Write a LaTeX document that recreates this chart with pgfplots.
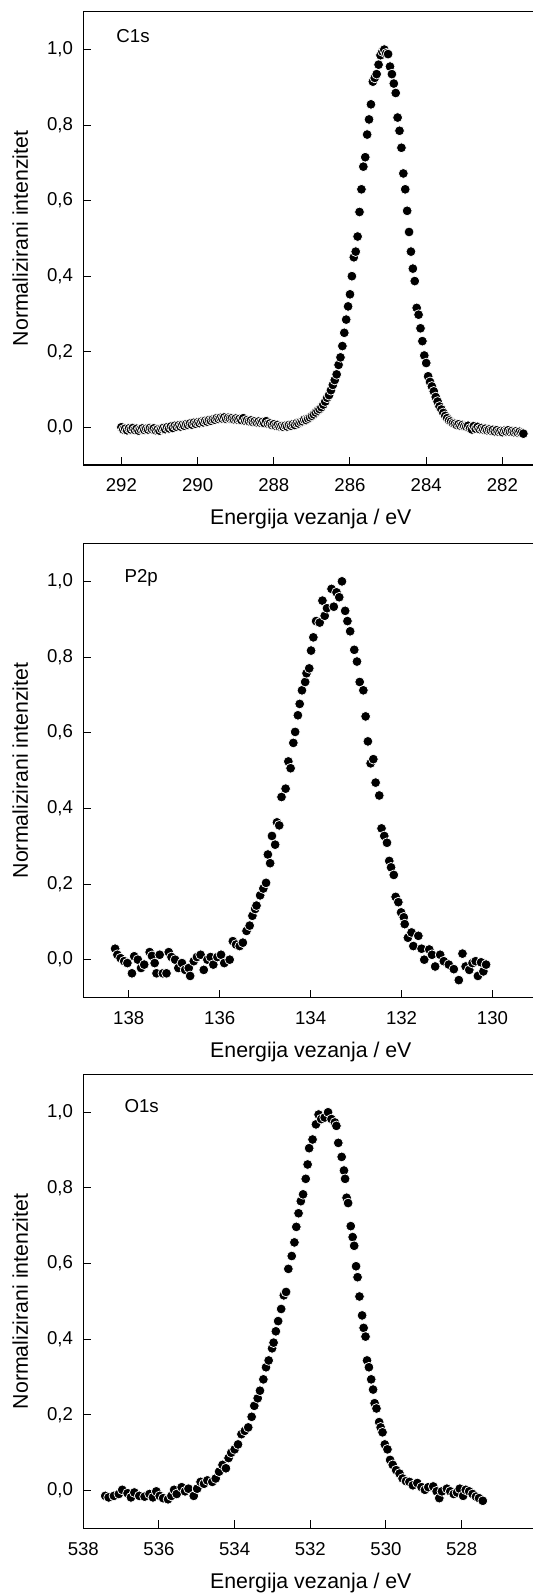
\documentclass[border=0pt]{standalone}
\usepackage{pgfplots}
\usepackage{pgfplotstable}
\pgfplotsset{compat=1.18}
\usepackage{fontspec}
\setmainfont{Liberation Sans}

\pgfplotstableread{
x y
292.00 0.000
291.95 -0.006
291.90 -0.004
291.85 -0.008
291.80 -0.003
291.75 -0.006
291.70 -0.002
291.65 -0.007
291.60 -0.004
291.55 -0.009
291.50 -0.005
291.45 -0.003
291.40 -0.007
291.35 -0.004
291.30 -0.006
291.25 -0.002
291.20 -0.005
291.15 -0.003
291.10 -0.008
291.05 -0.006
291.00 -0.009
290.95 -0.004
290.90 -0.002
290.85 -0.005
290.80 0.000
290.75 -0.003
290.70 0.002
290.65 -0.002
290.60 0.004
290.55 0.001
290.50 0.005
290.45 0.002
290.40 0.006
290.35 0.004
290.30 0.008
290.25 0.006
290.20 0.010
290.15 0.007
290.10 0.012
290.05 0.009
290.00 0.013
289.95 0.011
289.90 0.015
289.85 0.013
289.80 0.017
289.75 0.015
289.70 0.019
289.65 0.017
289.60 0.021
289.55 0.020
289.50 0.024
289.45 0.022
289.40 0.025
289.35 0.023
289.30 0.026
289.25 0.022
289.20 0.025
289.15 0.023
289.10 0.024
289.05 0.021
289.00 0.023
288.95 0.020
288.90 0.022
288.85 0.019
288.80 0.024
288.75 0.017
288.70 0.019
288.65 0.016
288.60 0.018
288.55 0.014
288.50 0.016
288.45 0.013
288.40 0.015
288.35 0.012
288.30 0.014
288.25 0.011
288.20 0.016
288.15 0.009
288.10 0.010
288.05 0.006
288.00 0.008
287.95 0.004
287.90 0.006
287.85 0.002
287.80 0.003
287.75 0.001
287.70 0.004
287.65 0.002
287.60 0.006
287.55 0.004
287.50 0.008
287.45 0.006
287.40 0.011
287.35 0.010
287.30 0.014
287.25 0.016
287.20 0.020
287.15 0.019
287.10 0.023
287.05 0.026
287.00 0.030
286.95 0.034
286.90 0.039
286.85 0.044
286.80 0.048
286.75 0.053
286.70 0.060
286.65 0.068
286.60 0.078
286.55 0.085
286.50 0.098
286.45 0.112
286.40 0.125
286.35 0.140
286.30 0.165
286.25 0.185
286.20 0.215
286.15 0.250
286.10 0.285
286.05 0.320
286.00 0.352
285.95 0.400
285.90 0.450
285.85 0.465
285.80 0.505
285.75 0.570
285.70 0.630
285.65 0.690
285.60 0.715
285.55 0.775
285.50 0.815
285.45 0.855
285.40 0.915
285.35 0.925
285.30 0.935
285.25 0.960
285.20 0.985
285.15 0.995
285.10 1.000
285.05 0.990
285.00 0.988
284.95 0.955
284.90 0.935
284.85 0.910
284.80 0.885
284.75 0.820
284.70 0.785
284.65 0.740
284.60 0.672
284.55 0.630
284.50 0.573
284.45 0.517
284.40 0.465
284.35 0.420
284.30 0.387
284.25 0.316
284.20 0.298
284.15 0.262
284.10 0.228
284.05 0.190
284.00 0.170
283.95 0.135
283.90 0.120
283.85 0.108
283.80 0.095
283.75 0.080
283.70 0.068
283.65 0.055
283.60 0.047
283.55 0.038
283.50 0.030
283.45 0.024
283.40 0.018
283.35 0.015
283.30 0.011
283.25 0.009
283.20 0.006
283.15 0.008
283.10 0.004
283.05 0.006
283.00 0.003
282.95 0.002
282.90 0.004
282.85 -0.003
282.80 -0.006
282.75 0.003
282.70 -0.004
282.65 0.001
282.60 -0.005
282.55 -0.002
282.50 -0.006
282.45 -0.004
282.40 -0.008
282.35 -0.006
282.30 -0.009
282.25 -0.007
282.20 -0.011
282.15 -0.008
282.10 -0.012
282.05 -0.010
282.00 -0.013
281.95 -0.009
281.90 -0.011
281.85 -0.008
281.80 -0.012
281.75 -0.010
281.70 -0.013
281.65 -0.011
281.60 -0.014
281.55 -0.012
281.50 -0.015
281.45 -0.017
}\cone

\pgfplotstableread{
x y
138.30 0.029
138.25 0.013
138.18 0.004
138.10 -0.004
138.03 -0.009
137.93 -0.036
137.88 0.009
137.80 0.000
137.73 -0.022
137.66 -0.013
137.54 0.020
137.49 0.010
137.43 -0.009
137.39 -0.036
137.32 0.013
137.25 -0.036
137.17 -0.036
137.12 0.020
137.06 0.007
136.98 0.000
136.91 -0.022
136.83 -0.009
136.76 -0.027
136.68 -0.022
136.65 -0.043
136.57 -0.004
136.50 0.007
136.42 0.013
136.35 -0.027
136.27 0.000
136.20 0.007
136.14 -0.013
136.05 0.007
135.97 0.013
135.90 -0.009
135.78 0.000
135.71 0.049
135.64 0.040
135.56 0.036
135.49 0.045
135.41 0.076
135.34 0.090
135.28 0.116
135.22 0.134
135.19 0.143
135.11 0.170
135.04 0.188
134.98 0.203
134.94 0.278
134.89 0.255
134.85 0.327
134.78 0.304
134.74 0.363
134.69 0.355
134.64 0.430
134.55 0.452
134.49 0.524
134.44 0.506
134.38 0.573
134.34 0.602
134.28 0.646
134.24 0.676
134.19 0.712
134.12 0.734
134.09 0.757
134.03 0.770
133.99 0.817
133.94 0.852
133.88 0.895
133.80 0.891
133.74 0.949
133.69 0.909
133.64 0.929
133.54 0.980
133.49 0.933
133.43 0.971
133.37 0.958
133.31 1.000
133.24 0.922
133.19 0.895
133.13 0.868
133.04 0.819
132.98 0.788
132.92 0.734
132.84 0.712
132.79 0.643
132.74 0.577
132.68 0.519
132.62 0.530
132.57 0.468
132.49 0.434
132.44 0.347
132.38 0.327
132.32 0.309
132.27 0.261
132.23 0.244
132.17 0.224
132.13 0.166
132.07 0.152
132.01 0.125
131.95 0.112
131.93 0.094
131.86 0.058
131.78 0.072
131.74 0.036
131.63 0.063
131.56 0.029
131.50 0.000
131.39 0.027
131.33 0.013
131.26 -0.018
131.15 0.013
131.07 -0.004
130.96 -0.013
130.85 -0.025
130.74 -0.054
130.66 0.016
130.59 -0.018
130.51 -0.027
130.44 -0.009
130.37 -0.004
130.32 -0.043
130.25 -0.007
130.20 -0.031
130.14 -0.013
}\ptwop

\pgfplotstableread{
x y
537.42 -0.014
537.33 -0.018
537.19 -0.014
537.06 -0.009
536.97 0.002
536.83 -0.007
536.74 -0.018
536.65 -0.005
536.52 -0.014
536.38 -0.016
536.25 -0.009
536.16 -0.018
536.07 -0.002
535.98 -0.014
535.89 -0.020
535.76 -0.023
535.67 -0.014
535.60 0.002
535.53 -0.009
535.40 0.009
535.31 -0.002
535.22 0.005
535.08 -0.014
534.99 0.005
534.90 0.023
534.81 0.018
534.72 0.027
534.59 0.023
534.50 0.032
534.41 0.050
534.32 0.068
534.23 0.059
534.16 0.086
534.09 0.100
534.00 0.109
533.91 0.122
533.82 0.149
533.73 0.158
533.64 0.167
533.55 0.195
533.48 0.224
533.39 0.244
533.33 0.264
533.24 0.294
533.17 0.326
533.10 0.344
533.01 0.376
532.97 0.391
532.91 0.421
532.85 0.448
532.77 0.480
532.70 0.516
532.64 0.525
532.58 0.586
532.49 0.620
532.42 0.656
532.37 0.697
532.31 0.733
532.25 0.765
532.19 0.783
532.12 0.824
532.07 0.862
532.03 0.905
531.94 0.928
531.85 0.968
531.78 0.994
531.71 0.982
531.62 0.986
531.53 1.000
531.44 0.982
531.35 0.973
531.31 0.964
531.26 0.919
531.17 0.882
531.11 0.846
531.08 0.824
531.04 0.774
531.00 0.760
530.93 0.699
530.88 0.670
530.84 0.647
530.79 0.593
530.75 0.564
530.70 0.513
530.63 0.463
530.59 0.430
530.54 0.407
530.50 0.344
530.45 0.326
530.39 0.294
530.34 0.267
530.30 0.231
530.25 0.217
530.18 0.181
530.14 0.167
530.09 0.154
530.03 0.122
529.96 0.109
529.89 0.081
529.82 0.068
529.73 0.054
529.64 0.045
529.56 0.032
529.47 0.025
529.38 0.023
529.29 0.014
529.17 0.020
529.06 0.009
528.97 0.002
528.88 0.009
528.75 0.011
528.66 -0.002
528.59 -0.020
528.52 -0.002
528.39 0.005
528.30 -0.002
528.21 -0.009
528.12 -0.005
528.05 0.005
527.96 -0.014
527.89 0.002
527.80 -0.002
527.71 -0.009
527.62 -0.016
527.54 -0.020
527.44 -0.027
}\oones

\pgfplotsset{
  xps/.style={
    scale only axis,
    x dir=reverse,
    ymin=-0.1, ymax=1.1,
    ytick={0,0.2,0.4,0.6,0.8,1.0},
    axis x line=box, axis y line*=left,
    xtick pos=bottom, ytick pos=left,
    tick align=inside,
    major tick length=4pt,
    axis line style={black, line width=0.55pt, -},
    tick style={black, line width=0.5pt},
    /pgf/number format/assume math mode=true,
    tick label style={font=\fontsize{9.3pt}{11pt}\selectfont, inner sep=0pt},
    yticklabel style={anchor=east, xshift=-5pt,
      /pgf/number format/.cd, use comma, fixed, fixed zerofill, precision=1},
    xticklabel style={anchor=north, yshift=-6.6pt,
      /pgf/number format/.cd, 1000 sep={}},
    xlabel={Energija vezanja / eV},
    ylabel={Normalizirani intenzitet},
    every axis x label/.style={at={(axis description cs:0.506,0)}, anchor=north,
      inner sep=0pt, yshift=-22pt, font=\fontsize{10.65pt}{12pt}\selectfont},
    every axis y label/.style={at={(axis description cs:0,0.5)},
      xshift=-27.4pt, rotate=90, anchor=south, inner sep=0pt,
      font=\fontsize{10.65pt}{12pt}\selectfont},
    width=224.85pt, height=227pt,
  },
  dots/.style={only marks, mark=*, mark size=2.45pt,
    mark options={fill=black, draw=white, line width=0.35pt}},
}

\begin{document}
\begin{tikzpicture}
\path (0,0) rectangle (266.5pt,-797.5pt);

\begin{axis}[xps, at={(41.65pt,-232.5pt)}, anchor=south west,
  height=226.6pt,
  xmin=281.197, xmax=293, xtick={282,284,286,288,290,292}]
  \addplot[dots] table[x=x,y=y] {\cone};
  \node[anchor=base west, inner sep=0pt, font=\fontsize{9.35pt}{11pt}\selectfont]
    at (axis cs:292.14,1.019) {C1s};
\end{axis}

\begin{axis}[xps, at={(41.65pt,-498.75pt)}, anchor=south west,
  xmin=129.108, xmax=139, xtick={130,132,134,136,138}]
  \addplot[dots] table[x=x,y=y] {\ptwop};
  \node[anchor=base west, inner sep=0pt, font=\fontsize{9.35pt}{11pt}\selectfont]
    at (axis cs:138.1,0.998) {P2p};
\end{axis}

\begin{axis}[xps, at={(41.65pt,-764.2pt)}, anchor=south west,
  xmin=526.113, xmax=538, xtick={528,530,532,534,536,538}]
  \addplot[dots] table[x=x,y=y] {\oones};
  \node[anchor=base west, inner sep=0pt, font=\fontsize{9.35pt}{11pt}\selectfont]
    at (axis cs:536.92,0.9995) {O1s};
\end{axis}
\end{tikzpicture}
\end{document}
